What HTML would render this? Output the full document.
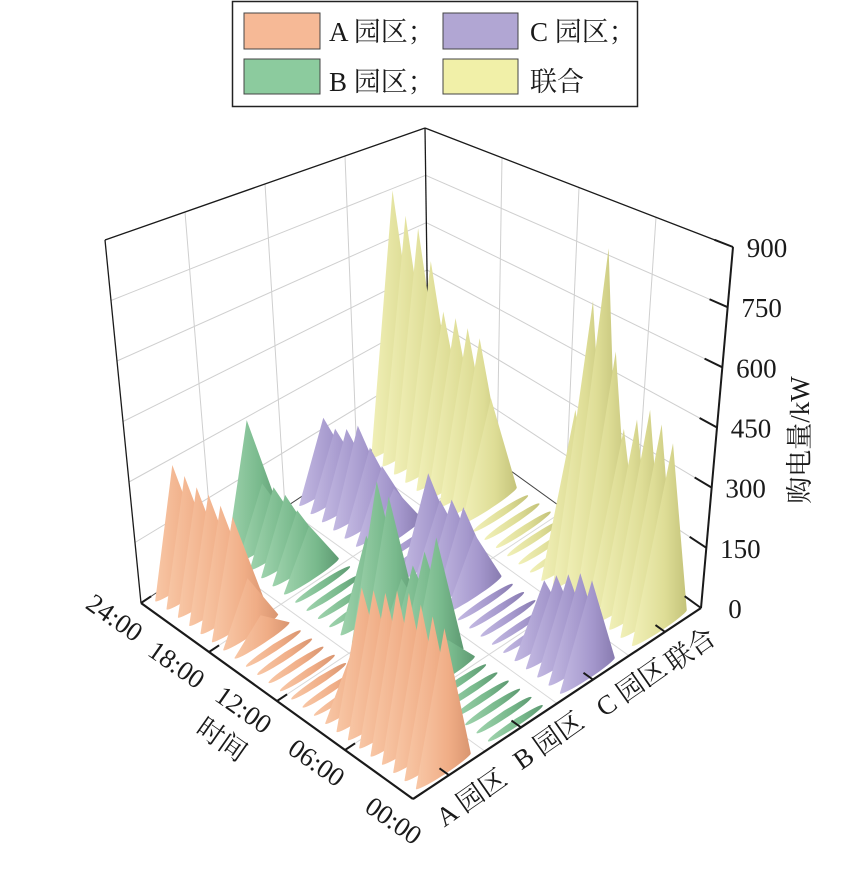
<!DOCTYPE html>
<html><head><meta charset="utf-8">
<style>
html,body{margin:0;padding:0;background:#fff;}
svg{display:block;}
text{font-family:"Liberation Serif","Noto Serif CJK SC","Noto Sans CJK SC",serif;fill:#1a1a1a;}
</style></head>
<body>
<svg id="s" width="866" height="872" viewBox="0 0 866 872" xmlns="http://www.w3.org/2000/svg">
<defs>
<linearGradient id="gA" x1="0" y1="0" x2="1" y2="0"><stop offset="0" stop-color="#f8c7a6"/><stop offset="0.6" stop-color="#f0ad86"/><stop offset="1" stop-color="#d99570"/></linearGradient>
<linearGradient id="gB" x1="0" y1="0" x2="1" y2="0"><stop offset="0" stop-color="#9fd3ad"/><stop offset="0.6" stop-color="#78b98c"/><stop offset="1" stop-color="#5e9a72"/></linearGradient>
<linearGradient id="gC" x1="0" y1="0" x2="1" y2="0"><stop offset="0" stop-color="#c3b9e2"/><stop offset="0.6" stop-color="#a497cc"/><stop offset="1" stop-color="#887bb0"/></linearGradient>
<linearGradient id="gD" x1="0" y1="0" x2="1" y2="0"><stop offset="0" stop-color="#f1f0b8"/><stop offset="0.6" stop-color="#dedd96"/><stop offset="1" stop-color="#c4c37a"/></linearGradient>
</defs>
<g id="grid"></g>
<g id="cones"></g>
<g id="axes"></g>
<rect x="232.5" y="1.5" width="405" height="105" fill="#fff" stroke="#222" stroke-width="1.5"/>
<rect x="244" y="13" width="76" height="36" fill="#f6b996" stroke="#444" stroke-width="1"/>
<rect x="244" y="59" width="76" height="35" fill="#8ccb9e" stroke="#444" stroke-width="1"/>
<rect x="443" y="13" width="75" height="36" fill="#b1a6d3" stroke="#444" stroke-width="1"/>
<rect x="443" y="59" width="75" height="35" fill="#f1f0a8" stroke="#444" stroke-width="1"/>
<text x="329" y="41" font-size="27">A 园区；</text>
<text x="329" y="91" font-size="27">B 园区；</text>
<text x="530" y="41" font-size="27">C 园区；</text>
<text x="530" y="91" font-size="27">联合</text>
</svg>
<script>
var NS="http://www.w3.org/2000/svg";
var F=[413,799],L=[141,603],R=[701,608];
function P(t,p,z){
  var fx=F[0]+t*(L[0]-F[0])+p*(R[0]-F[0]);
  var fy=F[1]+t*(L[1]-F[1])+p*(R[1]-F[1]);
  var h=440-77*t-79*p, dx=0-36*t+32*p;
  return [fx+z*dx, fy-z*h];
}
function el(tag,attrs,parent){var e=document.createElementNS(NS,tag);for(var k in attrs)e.setAttribute(k,attrs[k]);parent.appendChild(e);return e;}
function line(a,b,st,sw,par){el('line',{x1:a[0],y1:a[1],x2:b[0],y2:b[1],stroke:st,'stroke-width':sw},par);}
var grid=document.getElementById('grid'),axes=document.getElementById('axes'),cones=document.getElementById('cones');
var gc='#cfcfcf';
for(var i=1;i<=6;i++){var z=i/6;
  line(P(1,0,z),P(1,1,z),gc,1,grid);
  line(P(1,1,z),P(0,1,z),gc,1,grid);}
for(var i=1;i<4;i++){var f=i/4;
  line(P(1,f,0),P(1,f,1),gc,1,grid);
  line(P(f,1,0),P(f,1,1),gc,1,grid);
  line(P(f,0,0),P(f,1,0),'#d8d8d8',1,grid);
  line(P(0,f,0),P(1,f,0),'#d8d8d8',1,grid);}
var k='#1a1a1a';
line(P(1,0,0),P(1,1,0),'#444',1,grid);
line(P(1,1,0),P(0,1,0),'#444',1,grid);
line(P(1,1,0),P(1,1,1),k,1.3,grid);
line(P(1,0,1),P(1,1,1),k,1.3,grid);
line(P(1,1,1),P(0,1,1),k,1.3,grid);
line(P(1,0,0),P(1,0,1),k,1.3,grid);
line(P(0,1,0),P(0,1,1),k,2,axes);
line(P(0,0,0),P(1,0,0),k,2.2,axes);
line(P(0,0,0),P(0,1,0),k,2.2,axes);
for(var i=0;i<5;i++){line(P(i/4,0,0),P(i/4,0.035,0),k,2,axes);}
for(var i=0;i<4;i++){var pc=0.125+i*0.25;line(P(0,pc,0),P(0.035,pc,0),k,2,axes);}
for(var i=0;i<=6;i++){var a=P(0,1,i/6);line(a,P(0.06,1,i/6),k,2,axes);
  var t=el('text',{x:a[0]+34,y:a[1]+10,'font-size':'27','text-anchor':'middle'},axes);t.textContent=String(i*150);}
var tl=['00:00','06:00','12:00','18:00','24:00'];
var tpos=[[392,823],[315,765],[242,712],[175,667],[113,620]];
for(var i=0;i<5;i++){var t=el('text',{x:tpos[i][0],y:tpos[i][1],'font-size':'27','text-anchor':'middle','dominant-baseline':'middle',transform:'rotate(35 '+tpos[i][0]+' '+tpos[i][1]+')'},axes);t.textContent=tl[i];}
var tt=el('text',{x:220,y:742,'font-size':'27','text-anchor':'middle','dominant-baseline':'middle',transform:'rotate(35 220 742)'},axes);tt.textContent='时间';
var pl=['A 园区','B 园区','C 园区','联合'],ppos=[[473,800],[550,743],[633,690],[692,652]];
for(var i=0;i<4;i++){var t=el('text',{x:ppos[i][0],y:ppos[i][1],'font-size':'27','text-anchor':'middle','dominant-baseline':'middle',transform:'rotate(-35 '+ppos[i][0]+' '+ppos[i][1]+')'},axes);t.textContent=pl[i];}
var zt=el('text',{x:803,y:440,'font-size':'27','text-anchor':'middle','dominant-baseline':'middle',transform:'rotate(-90 803 440)'},axes);zt.textContent='购电量/kW';
var D=[
 {g:'gA',pc:0.125,v:[300,310,320,330,320,300,290,280,120,10,10,10,10,10,10,10,60,130,260,270,280,280,290,300]},
 {g:'gB',pc:0.375,v:[10,10,10,10,10,10,80,300,250,200,150,330,350,200,10,10,10,10,130,150,170,170,160,310]},
 {g:'gC',pc:0.625,v:[220,220,200,180,150,10,10,10,10,10,150,200,200,180,230,10,10,130,170,200,240,210,190,200]},
 {g:'gD',pc:0.875,v:[450,480,500,460,420,600,850,700,400,10,10,10,10,10,10,300,450,460,470,470,600,680,700,760]}
];
function hull(pts){pts.sort(function(a,b){return a[0]-b[0]||a[1]-b[1];});
 function cr(o,a,b){return (a[0]-o[0])*(b[1]-o[1])-(a[1]-o[1])*(b[0]-o[0]);}
 var lo=[],up=[];
 for(var i=0;i<pts.length;i++){while(lo.length>=2&&cr(lo[lo.length-2],lo[lo.length-1],pts[i])<=0)lo.pop();lo.push(pts[i]);}
 for(var i=pts.length-1;i>=0;i--){while(up.length>=2&&cr(up[up.length-2],up[up.length-1],pts[i])<=0)up.pop();up.push(pts[i]);}
 up.pop();lo.pop();return lo.concat(up);}
var items=[];
D.forEach(function(s){s.v.forEach(function(v,h){items.push({t:(h+0.5)/24,pc:s.pc,v:v,g:s.g});});});
items.sort(function(a,b){return (b.t+b.pc)-(a.t+a.pc);});
items.forEach(function(it){
  var pts=[],w=0.095,d=0.011;
  for(var j=0;j<36;j++){var th=j/36*2*Math.PI;pts.push(P(it.t+d*Math.sin(th),it.pc+w*Math.cos(th),0));}
  pts.push(P(it.t,it.pc,it.v/900));
  var hp=hull(pts);
  el('polygon',{points:hp.map(function(q){return q[0].toFixed(1)+','+q[1].toFixed(1);}).join(' '),fill:'url(#'+it.g+')'},cones);
});
</script>
</body></html>
